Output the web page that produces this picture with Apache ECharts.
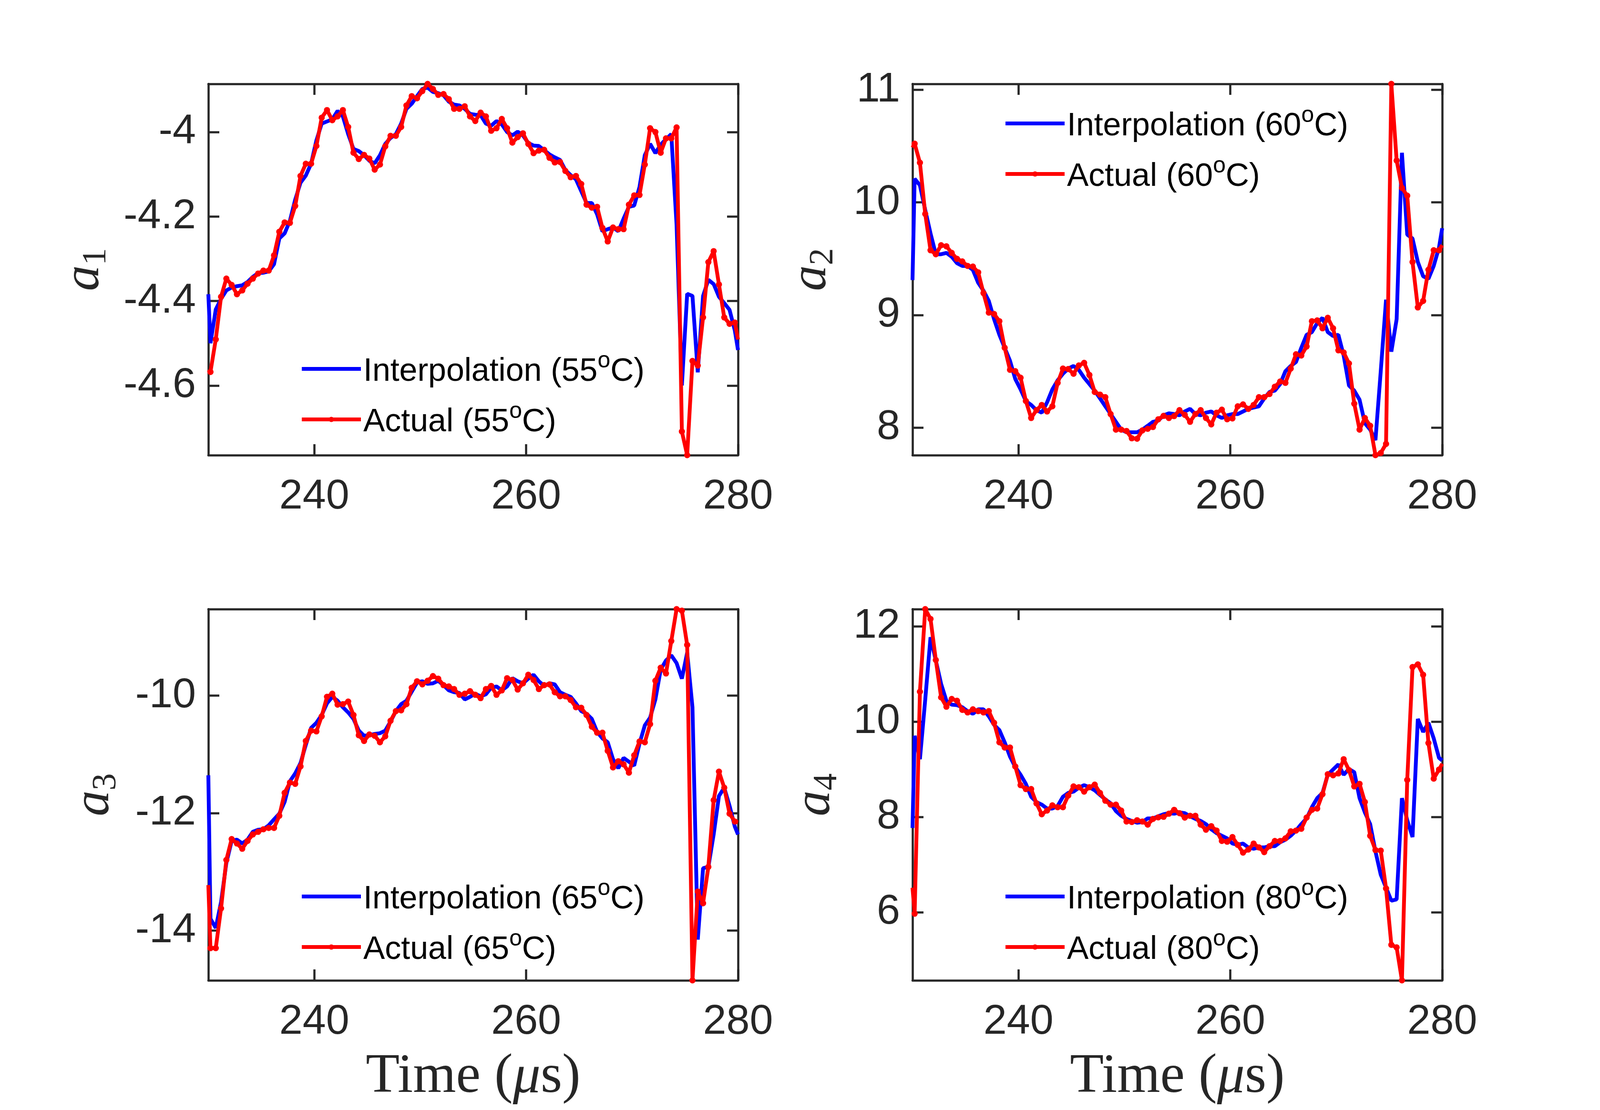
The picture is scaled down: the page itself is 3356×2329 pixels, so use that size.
<!DOCTYPE html>
<html>
<head>
<meta charset="utf-8">
<script src="https://cdn.jsdelivr.net/npm/echarts@6/dist/echarts.min.js"></script>
<style>
  html, body { margin: 0; padding: 0; background: #fff; }
  #chart { width: 3356px; height: 2329px; }
</style>
</head>
<body>
<div id="chart"></div>
<script>
// sample times (us), shared by all four panels; first and last are the axis edges
const t = [230, 230.2, 230.7, 231.2, 231.7, 232.2, 232.7, 233.2, 233.7, 234.2, 234.7, 235.2, 235.7, 236.2, 236.7,
  237.2, 237.7, 238.2, 238.7, 239.2, 239.7, 240.2, 240.7, 241.2, 241.7, 242.2, 242.7, 243.2, 243.7, 244.2, 244.7,
  245.2, 245.7, 246.2, 246.7, 247.2, 247.7, 248.2, 248.7, 249.2, 249.7, 250.2, 250.7, 251.2, 251.7, 252.2, 252.7,
  253.2, 253.7, 254.2, 254.7, 255.2, 255.7, 256.2, 256.7, 257.2, 257.7, 258.2, 258.7, 259.2, 259.7, 260.2, 260.7,
  261.2, 261.7, 262.2, 262.7, 263.2, 263.7, 264.2, 264.7, 265.2, 265.7, 266.2, 266.7, 267.2, 267.7, 268.2, 268.7,
  269.2, 269.7, 270.2, 270.7, 271.2, 271.7, 272.2, 272.7, 273.2, 273.7, 274.2, 274.7, 275.2, 275.7, 276.2, 276.7,
  277.2, 277.7, 278.2, 278.7, 279.2, 279.7, 280]

const temps = ['55', '60', '65', '80']
const xTicks = [240, 260, 280]
const yTicks = [[-4.6, -4.4, -4.2, -4], [8, 9, 10, 11], [-14, -12, -10], [6, 8, 10, 12]]
const yRange = [[-4.765, -3.886], [7.755, 11.053], [-14.849, -8.528], [4.567, 12.36]]

// a1 @ 55C
const interp55 = [-4.384,
  -4.50, -4.42, -4.395, -4.375, -4.368, -4.365, -4.363, -4.355, -4.343, -4.334,
  -4.333, -4.33, -4.313, -4.252, -4.24, -4.21, -4.16, -4.12, -4.103, -4.075,
  -4.02, -3.98, -3.975, -3.97, -3.95, -3.963, -4.005, -4.04, -4.045, -4.055,
  -4.068, -4.074, -4.055, -4.028, -4.014, -4.005, -3.98, -3.945, -3.933, -3.915,
  -3.898, -3.895, -3.905, -3.908, -3.913, -3.928, -3.935, -3.937, -3.945, -3.957,
  -3.959, -3.96, -3.98, -3.985, -3.974, -3.982, -4.0, -4.008, -3.999, -4.008,
  -4.026, -4.032, -4.033, -4.043, -4.053, -4.06, -4.066, -4.09, -4.102, -4.112,
  -4.14, -4.168, -4.168, -4.195, -4.235, -4.23, -4.226, -4.235, -4.205, -4.177,
  -4.174, -4.13, -4.055, -4.028, -4.05, -4.03, -4.017, -4.005, -4.22, -4.60,
  -4.383, -4.388, -4.569, -4.388, -4.35, -4.36, -4.39, -4.405, -4.421, -4.47,
  -4.516]
const actual55 = [-4.563,
  -4.568, -4.491, -4.39, -4.347, -4.362, -4.384, -4.375, -4.359, -4.347, -4.335,
  -4.328, -4.328, -4.292, -4.236, -4.214, -4.215, -4.175, -4.104, -4.075, -4.075,
  -4.033, -3.966, -3.948, -3.972, -3.963, -3.948, -3.988, -4.049, -4.064, -4.054,
  -4.063, -4.089, -4.077, -4.034, -4.009, -4.009, -3.988, -3.937, -3.915, -3.92,
  -3.903, -3.886, -3.898, -3.912, -3.91, -3.922, -3.945, -3.945, -3.939, -3.963,
  -3.974, -3.954, -3.963, -3.997, -3.991, -3.969, -3.991, -4.025, -4.012, -4.003,
  -4.028, -4.05, -4.044, -4.042, -4.061, -4.072, -4.071, -4.092, -4.107, -4.104,
  -4.123, -4.172, -4.179, -4.177, -4.227, -4.259, -4.226, -4.23, -4.23, -4.172,
  -4.15, -4.149, -4.077, -3.991, -4.0, -4.049, -4.015, -4.015, -3.989, -4.709,
  -4.765, -4.542, -4.553, -4.439, -4.308, -4.282, -4.361, -4.439, -4.454, -4.451,
  -4.491]

// a2 @ 60C
const interp60 = [9.31,
  10.21, 10.152, 9.933, 9.725, 9.54, 9.54, 9.552, 9.517, 9.46, 9.436,
  9.436, 9.40, 9.286, 9.216, 9.125, 8.963, 8.824, 8.709, 8.594, 8.432,
  8.339, 8.236, 8.201, 8.155, 8.132, 8.224, 8.339, 8.42, 8.478, 8.524,
  8.547, 8.513, 8.443, 8.386, 8.328, 8.259, 8.189, 8.12, 8.051, 7.982,
  7.958, 7.958, 7.958, 7.982, 8.016, 8.051, 8.062, 8.109, 8.127, 8.12,
  8.109, 8.143, 8.166, 8.12, 8.109, 8.132, 8.143, 8.109, 8.085, 8.109,
  8.12, 8.12, 8.143, 8.166, 8.178, 8.189, 8.259, 8.316, 8.328, 8.386,
  8.501, 8.547, 8.582, 8.709, 8.824, 8.848, 8.928, 8.975, 8.848, 8.813,
  8.824, 8.64, 8.374, 8.328, 8.247, 8.039, 7.982, 7.889, 8.5, 9.136,
  8.674, 8.963, 10.441, 9.714, 9.679, 9.471, 9.344, 9.321, 9.436, 9.6,
  9.771]
const actual60 = [10.487,
  10.522, 10.353, 9.898, 9.575, 9.54, 9.62, 9.61, 9.552, 9.499, 9.476,
  9.436, 9.43, 9.379, 9.194, 9.021, 9.009, 8.945, 8.709, 8.513, 8.501,
  8.443, 8.236, 8.085, 8.155, 8.201, 8.143, 8.189, 8.397, 8.524, 8.52,
  8.478, 8.552, 8.575, 8.467, 8.316, 8.293, 8.27, 8.12, 7.982, 7.982,
  7.97, 7.905, 7.901, 7.975, 7.989, 8.005, 8.074, 8.104, 8.085, 8.102,
  8.155, 8.113, 8.051, 8.12, 8.155, 8.085, 8.028, 8.132, 8.159, 8.074,
  8.081, 8.189, 8.206, 8.166, 8.201, 8.27, 8.27, 8.298, 8.363, 8.409,
  8.397, 8.524, 8.651, 8.64, 8.72, 8.945, 8.952, 8.882, 8.975, 8.882,
  8.686, 8.667, 8.57, 8.212, 7.982, 8.085, 8.016, 7.755, 7.774, 7.855,
  11.053, 10.372, 10.129, 10.06, 9.471, 9.067, 9.125, 9.402, 9.575, 9.575,
  9.62]

// a3 @ 65C
const interp65 = [-11.357,
  -13.80, -13.956, -13.514, -12.851, -12.475, -12.453, -12.519, -12.453, -12.32, -12.285,
  -12.276, -12.21, -12.108, -12.011, -11.812, -11.459, -11.326, -11.149, -10.84, -10.552,
  -10.464, -10.331, -10.133, -10.022, -10.088, -10.199, -10.287, -10.398, -10.597, -10.685,
  -10.676, -10.654, -10.641, -10.597, -10.442, -10.265, -10.146, -10.088, -9.934, -9.779,
  -9.757, -9.801, -9.792, -9.748, -9.823, -9.912, -9.943, -9.956, -10.066, -10.022,
  -9.969, -10.013, -9.978, -9.867, -9.845, -9.912, -9.845, -9.704, -9.757, -9.792,
  -9.713, -9.646, -9.757, -9.836, -9.792, -9.81, -9.943, -9.987, -10.022, -10.133,
  -10.265, -10.309, -10.398, -10.619, -10.729, -10.796, -11.083, -11.238, -11.061, -11.127,
  -11.193, -10.818, -10.508, -10.376, -10.066, -9.558, -9.403, -9.315, -9.447, -9.713,
  -9.271, -10.199, -14.155, -12.939, -12.917, -12.365, -11.71, -11.569, -11.878, -12.232,
  -12.365]
const actual65 = [-13.227,
  -14.30, -14.30, -13.624, -12.798, -12.444, -12.519, -12.608, -12.475, -12.365, -12.32,
  -12.276, -12.254, -12.254, -12.046, -11.657, -11.481, -11.503, -11.207, -10.773, -10.597,
  -10.61, -10.354, -10.022, -9.969, -10.155, -10.146, -10.102, -10.331, -10.676, -10.773,
  -10.663, -10.685, -10.796, -10.694, -10.429, -10.265, -10.252, -10.146, -9.867, -9.757,
  -9.81, -9.748, -9.669, -9.713, -9.823, -9.845, -9.89, -9.987, -9.969, -9.925,
  -9.987, -10.044, -9.89, -9.836, -9.987, -9.912, -9.704, -9.735, -9.898, -9.792,
  -9.646, -9.735, -9.89, -9.823, -9.81, -9.943, -10.013, -10.013, -10.075, -10.199,
  -10.208, -10.331, -10.53, -10.632, -10.632, -10.941, -11.224, -11.118, -11.171, -11.313,
  -11.017, -10.782, -10.796, -10.486, -9.748, -9.527, -9.624, -9.072, -8.528, -8.555,
  -9.138, -14.849, -13.337, -13.536, -12.917, -11.781, -11.295, -11.569, -12.011, -12.144,
  -12.16]

// a4 @ 80C
const interp80 = [7.766,
  9.70, 9.21, 10.46, 11.77, 11.28, 10.79, 10.436, 10.354, 10.343, 10.3,
  10.218, 10.163, 10.256, 10.256, 10.109, 9.929, 9.82, 9.564, 9.264, 9.046,
  8.883, 8.692, 8.42, 8.311, 8.256, 8.174, 8.174, 8.229, 8.42, 8.501,
  8.529, 8.61, 8.665, 8.621, 8.556, 8.458, 8.365, 8.283, 8.12, 8.022,
  7.956, 7.913, 7.875, 7.891, 7.967, 7.967, 8.011, 8.054, 8.076, 8.065,
  8.093, 8.076, 8.011, 7.956, 7.913, 7.847, 7.738, 7.657, 7.602, 7.548,
  7.439, 7.411, 7.439, 7.357, 7.33, 7.357, 7.357, 7.384, 7.384, 7.466,
  7.52, 7.602, 7.711, 7.847, 7.967, 8.202, 8.392, 8.501, 8.883, 8.992,
  9.101, 8.883, 9.003, 8.937, 8.392, 8.093, 7.847, 7.275, 6.785, 6.512,
  6.24, 6.267, 8.392, 7.929, 7.575, 10.054, 9.782, 9.973, 9.646, 9.237,
  9.183]
const actual80 = [6.512,
  5.967, 10.627, 12.36, 12.153, 11.292, 10.507, 10.311, 10.474, 10.436, 10.245,
  10.191, 10.256, 10.218, 10.191, 10.218, 9.973, 9.564, 9.455, 9.455, 9.057,
  8.665, 8.583, 8.583, 8.283, 8.054, 8.131, 8.24, 8.202, 8.202, 8.447,
  8.638, 8.621, 8.529, 8.621, 8.676, 8.501, 8.338, 8.256, 8.256, 8.131,
  7.902, 7.891, 7.929, 7.902, 7.837, 7.956, 7.989, 8.0, 8.065, 8.147,
  8.076, 7.984, 8.022, 8.022, 7.837, 7.728, 7.804, 7.711, 7.493, 7.477,
  7.575, 7.411, 7.248, 7.313, 7.439, 7.357, 7.259, 7.384, 7.493, 7.493,
  7.548, 7.695, 7.711, 7.749, 7.984, 8.147, 8.174, 8.474, 8.894, 8.872,
  8.91, 9.21, 8.981, 8.638, 8.692, 8.311, 7.602, 7.302, 7.291, 6.496,
  5.313, 5.259, 4.567, 8.774, 11.144, 11.199, 10.981, 9.548, 8.801, 8.992,
  9.112]

const interps = [interp55, interp60, interp65, interp80]
const actuals = [actual55, actual60, actual65, actual80]

//- layout of the four panels (px)
const boxes = [
  {left: 437, top: 176, nameGap: 199, legLeft: 629, legTop: 734},
  {left: 1914, top: 176, nameGap: 151, legLeft: 2105, legTop: 219},
  {left: 437, top: 1278, nameGap: 178, legLeft: 629, legTop: 1841},
  {left: 1914, top: 1278, nameGap: 143, legLeft: 2105, legTop: 1841}
]
const AX = '#262626'

// [t, value] pairs; the edge points of the measured curve carry no dot
const pair = (vals, dots) => t.map((x, i) => {
  let last = i === 0 || i === t.length - 1
  return dots && last ? {value: [x, vals[i]], symbolSize: 0} : [x, vals[i]]
})

let option = {
  animation: false,
  backgroundColor: '#fff',
  grid: [], xAxis: [], yAxis: [], legend: [], series: []
}

boxes.forEach((b, p) => {
  option.grid.push({left: b.left, top: b.top, width: 1111, height: 779})
  let line = {show: true, onZero: false, lineStyle: {color: AX, width: 4.5}}
  let tick = vals => ({show: true, inside: true, length: 23, customValues: vals, lineStyle: {color: AX, width: 4.5}})
  let xb = {
    type: 'value', gridIndex: p, min: 230, max: 280, position: 'bottom',
    axisLine: line, axisTick: tick(xTicks), splitLine: {show: false},
    axisLabel: {customValues: xTicks, color: AX, fontSize: 88, fontFamily: 'Liberation Sans', margin: 44}
  }
  if (p >= 2) {
    xb.name = 'Time ({m|μ}s)'
    xb.nameLocation = 'middle'
    xb.nameGap = 146
    xb.nameTextStyle = {color: AX, fontSize: 116, fontFamily: 'Liberation Serif',
      rich: {m: {color: AX, fontSize: 116, fontFamily: 'Liberation Serif', fontStyle: 'italic'}}}
  }
  option.xAxis.push(xb)
  option.xAxis.push({type: 'value', gridIndex: p, min: 230, max: 280, position: 'top',
    axisLine: line, axisTick: tick(xTicks), axisLabel: {show: false}, splitLine: {show: false}})
  let [lo, hi] = yRange[p]
  option.yAxis.push({
    type: 'value', gridIndex: p, min: lo, max: hi, position: 'left',
    axisLine: line, axisTick: tick(yTicks[p]), splitLine: {show: false},
    axisLabel: {customValues: yTicks[p], color: AX, fontSize: 88, fontFamily: 'Liberation Sans', margin: 26},
    name: `{i|a}{s|${p + 1}}`, nameLocation: 'middle', nameGap: b.nameGap, nameRotate: 90,
    nameTextStyle: {rich: {
      i: {fontSize: 108, fontFamily: 'Liberation Serif', fontStyle: 'italic', color: AX, lineHeight: 120, verticalAlign: 'middle'},
      s: {fontSize: 72, fontFamily: 'Liberation Serif', color: AX, lineHeight: 70, verticalAlign: 'bottom'}
    }}
  })
  option.yAxis.push({type: 'value', gridIndex: p, min: lo, max: hi, position: 'right',
    axisLine: line, axisTick: tick(yTicks[p]), axisLabel: {show: false}, splitLine: {show: false}})

  let nI = `Interpolation (${temps[p]}oC)`, nA = `Actual (${temps[p]}oC)`
  option.series.push({
    name: nI, type: 'line', xAxisIndex: 2 * p, yAxisIndex: 2 * p, data: pair(interps[p], false),
    symbol: 'none', showSymbol: false, color: '#0000ff', lineStyle: {width: 8, color: '#0000ff'}, z: 2
  })
  option.series.push({
    name: nA, type: 'line', xAxisIndex: 2 * p, yAxisIndex: 2 * p, data: pair(actuals[p], true),
    symbol: 'circle', symbolSize: 13, showSymbol: true, color: '#ff0000',
    itemStyle: {color: '#ff0000'}, lineStyle: {width: 8, color: '#ff0000'}, z: 3
  })
  option.legend.push({
    data: [{name: nI, itemStyle: {opacity: 0}}, {name: nA}],
    orient: 'vertical', left: b.legLeft, top: b.legTop, padding: 0,
    itemWidth: 124, itemHeight: 14, itemGap: 26, selectedMode: false,
    lineStyle: {width: 8},
    formatter: name => {
      let m = name.match(/^(.*\()(\d+)oC\)$/)
      return `{t|${m[1]}${m[2]}}{sup|o}{t|C)}`
    },
    textStyle: {rich: {
      t: {fontSize: 68, fontFamily: 'Liberation Sans', color: '#000', lineHeight: 80, verticalAlign: 'bottom'},
      sup: {fontSize: 48, fontFamily: 'Liberation Sans', color: '#000', lineHeight: 80, verticalAlign: 'top'}
    }}
  })
})

let myChart = echarts.init(document.getElementById('chart'))
myChart.setOption(option)
window.addEventListener('resize', function () { myChart.resize() })
</script>
</body>
</html>
